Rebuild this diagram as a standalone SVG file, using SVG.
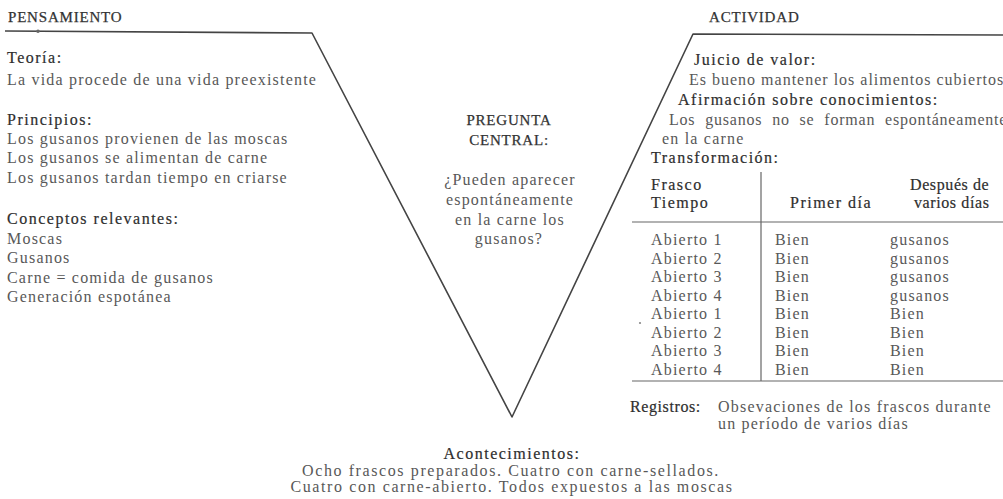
<svg xmlns="http://www.w3.org/2000/svg" width="1003" height="499" viewBox="0 0 1003 499">
<style>
text{font-family:"Liberation Serif","Times New Roman",serif;font-size:16px;fill:#585858;letter-spacing:1.2px}
.cap{font-size:15px;fill:#333;letter-spacing:0.8px;stroke:#333;stroke-width:0.25}
.h{fill:#2e2e2e;stroke:#2e2e2e;stroke-width:0.2;letter-spacing:1.5px}
.hn{letter-spacing:0.6px}
.c{text-anchor:middle}
.frame{fill:none;stroke:#444;stroke-width:1.6;stroke-linejoin:round}
.rule{fill:none;stroke:#666;stroke-width:1.2}
</style>
<rect width="1003" height="499" fill="#fff"/>
<g id="connectors">
<path class="frame" d="M5 31 L312 33 L512 417 L693 34 L1003 35"/>
<circle cx="38" cy="31.3" r="1.8" fill="#666"/>
</g>
<g id="pensamiento">
<text class="cap" x="8" y="22">PENSAMIENTO</text>
<text class="h" x="7" y="63">Teoría:</text>
<text x="7" y="85">La vida procede de una vida preexistente</text>
<text class="h" x="7" y="125">Principios:</text>
<text x="7" y="144">Los gusanos provienen de las moscas</text>
<text x="7" y="163">Los gusanos se alimentan de carne</text>
<text x="7" y="183">Los gusanos tardan tiempo en criarse</text>
<text class="h" x="7" y="224">Conceptos relevantes:</text>
<text x="7" y="244">Moscas</text>
<text x="7" y="263">Gusanos</text>
<text x="7" y="283">Carne = comida de gusanos</text>
<text x="7" y="302">Generación espotánea</text>
</g>
<g id="pregunta">
<text class="cap c" x="509" y="125">PREGUNTA</text>
<text class="cap c" x="509" y="145">CENTRAL:</text>
<text class="c" x="510" y="185">¿Pueden aparecer</text>
<text class="c" x="510" y="205">espontáneamente</text>
<text class="c" x="510" y="225">en la carne los</text>
<text class="c" x="509" y="244">gusanos?</text>
</g>
<g id="actividad">
<text class="cap" x="709" y="22">ACTIVIDAD</text>
<text class="h" x="694" y="65">Juicio de valor:</text>
<text x="689" y="85" style="letter-spacing:1px">Es bueno mantener los alimentos cubiertos</text>
<text class="h" x="678" y="105">Afirmación sobre conocimientos:</text>
<text x="669" y="125" style="letter-spacing:0.8px;word-spacing:5px">Los gusanos no se forman espontáneamente</text>
<text x="662" y="144">en la carne</text>
<text class="h" x="651" y="163">Transformación:</text>
</g>
<g id="tabla">
<line class="rule" x1="761" y1="172" x2="761" y2="381"/>
<line class="rule" x1="632" y1="222" x2="1003" y2="222"/>
<line class="rule" x1="632" y1="381" x2="1003" y2="381"/>
<text class="h" x="651" y="190">Frasco</text>
<text class="h" x="651" y="208">Tiempo</text>
<text class="h" x="790" y="208">Primer día</text>
<text class="h hn" x="910" y="190">Después de</text>
<text class="h hn" x="914" y="208">varios días</text>
<text x="651" y="245">Abierto 1</text>
<text x="651" y="263.5">Abierto 2</text>
<text x="651" y="282">Abierto 3</text>
<text x="651" y="300.5">Abierto 4</text>
<text x="651" y="319">Abierto 1</text>
<text x="651" y="337.5">Abierto 2</text>
<text x="651" y="356">Abierto 3</text>
<text x="651" y="374.5">Abierto 4</text>
<text x="775" y="245">Bien</text>
<text x="775" y="263.5">Bien</text>
<text x="775" y="282">Bien</text>
<text x="775" y="300.5">Bien</text>
<text x="775" y="319">Bien</text>
<text x="775" y="337.5">Bien</text>
<text x="775" y="356">Bien</text>
<text x="775" y="374.5">Bien</text>
<text x="890" y="245">gusanos</text>
<text x="890" y="263.5">gusanos</text>
<text x="890" y="282">gusanos</text>
<text x="890" y="300.5">gusanos</text>
<text x="890" y="319">Bien</text>
<text x="890" y="337.5">Bien</text>
<text x="890" y="356">Bien</text>
<text x="890" y="374.5">Bien</text>
<circle cx="640" cy="323" r="1.1" fill="#888"/>
</g>
<g id="registros">
<text class="h hn" x="630" y="412">Registros:</text>
<text x="718" y="412">Obsevaciones de los frascos durante</text>
<text x="718" y="429">un período de varios días</text>
</g>
<g id="acontecimientos">
<text class="h c" x="512" y="459">Acontecimientos:</text>
<text class="c" x="511" y="476" style="letter-spacing:1.6px">Ocho frascos preparados. Cuatro con carne-sellados.</text>
<text class="c" x="512" y="492" style="letter-spacing:1.6px">Cuatro con carne-abierto. Todos expuestos a las moscas</text>
</g>
</svg>
